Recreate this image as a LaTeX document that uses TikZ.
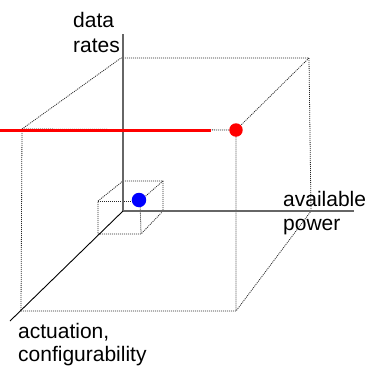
\documentclass[tikz,border=0pt]{standalone}
\usepackage{fontspec}
\setmainfont{Liberation Sans}
\begin{document}
\begin{tikzpicture}[x=1pt,y=-1pt,
  axis/.style={draw=black!60, line width=1.4pt},
  diagaxis/.style={draw=black, line width=0.9pt},
  edge/.style={draw=black!85, line width=0.8pt, dash pattern=on 1pt off 1pt},
  dot/.style={circle, inner sep=0pt, minimum size=14pt},
  lab/.style={anchor=base west, inner sep=0pt, font=\fontsize{21}{24}\selectfont}]
\useasboundingbox (0,0) rectangle (368,367);
% origin and axis ends
\coordinate (O) at (123,211);
\coordinate (Ytop) at (123,34);
\coordinate (Xend) at (354,211);
\coordinate (Zend) at (10,321);
% big cube
\coordinate (BTL) at (121,58);
\coordinate (BTR) at (309,58);
\coordinate (BBR) at (311,211);
\coordinate (FTL) at (22,129);
\coordinate (FTR) at (236,130);
\coordinate (FBL) at (21,311);
\coordinate (FBR) at (236,311);
% small cube
\coordinate (sBTL) at (123,181);
\coordinate (sBTR) at (163,181);
\coordinate (sBBR) at (163,211);
\coordinate (sFTL) at (98,201);
\coordinate (sFTR) at (140,201);
\coordinate (sFBL) at (98,234);
\coordinate (sFBR) at (141,234);
% big cube edges
\draw[edge] (FTL) -- (BTL) -- (BTR) -- (BBR) -- (FBR) -- (FBL) -- (FTL);
\draw[edge] (BTR) -- (FTR) -- (FBR);
\draw[edge] (FTL) -- (FTR);
% small cube edges
\draw[edge] (sFTL) -- (sBTL) -- (sBTR) -- (sBBR) -- (sFBR) -- (sFBL) -- (sFTL);
\draw[edge] (sBTR) -- (sFTR) -- (sFBR);
\draw[edge] (sFTL) -- (sFTR);
% axes
\draw[axis] (Ytop) -- (O) -- (Xend);
\draw[diagaxis] (O) -- (Zend);
% red line and dots
\coordinate (Rstart) at (0,130);
\coordinate (Rend) at (211,130);
\draw[red, line width=3pt] (Rstart) -- (Rend);
\node[dot, fill=red, minimum size=13.5pt] (rdot) at (FTR) {};
\node[dot, fill=blue, minimum size=14.5pt] (bdot) at (139,200) {};
% labels
\node[lab] (l1) at (73,27) {data};
\node[lab] (l2) at (73,52.5) {rates};
\node[lab] (l3) at (283,206.5) {available};
\node[lab] (l4) at (283,230) {power};
\node[lab] (l5) at (18,338) {actuation,};
\node[lab] (l6) at (18,361.5) {configurability};
\end{tikzpicture}
\end{document}
